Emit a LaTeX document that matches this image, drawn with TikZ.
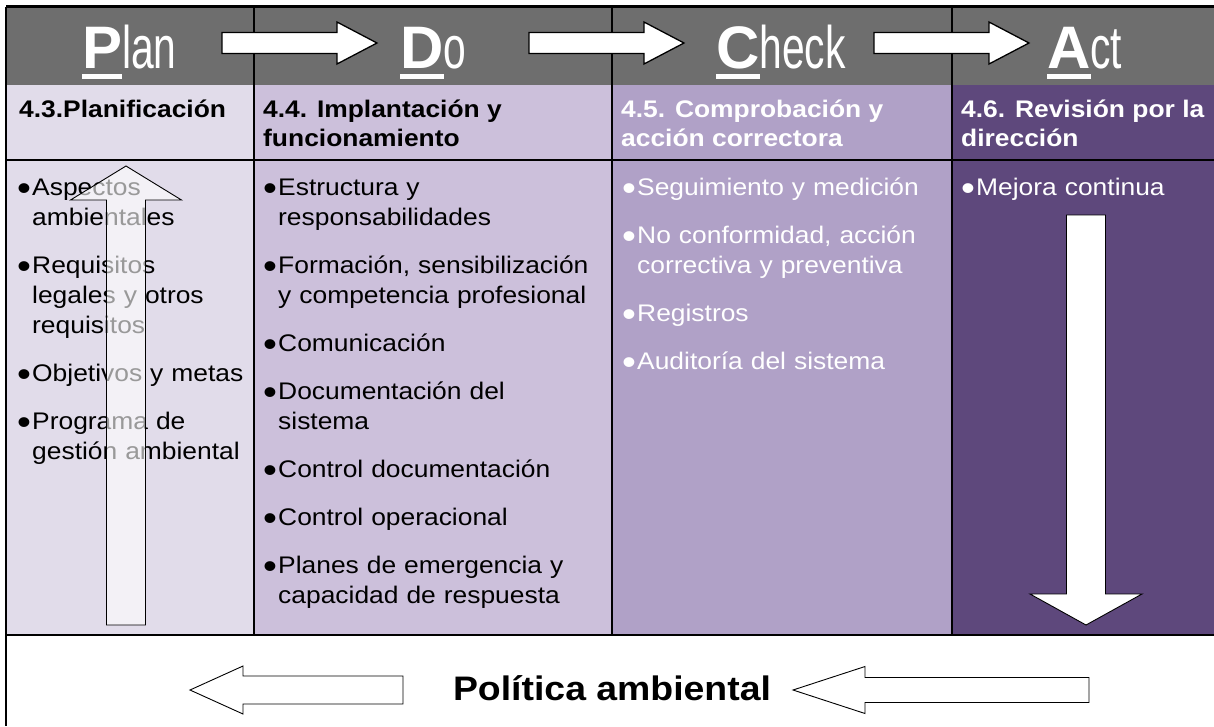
\documentclass[tikz,border=0pt]{standalone}
\usepackage{fontspec}
\setmainfont{Liberation Sans}[FakeStretch=1.1]
\newfontfamily\capfont{Liberation Sans}
\newfontfamily\lowfont{Liberation Sans}[FakeStretch=0.68]
\definecolor{headgray}{HTML}{6E6E6E}
\definecolor{planfill}{HTML}{E1DCEA}
\definecolor{dofill}{HTML}{CCC0DB}
\definecolor{checkfill}{HTML}{B0A1C7}
\definecolor{actfill}{HTML}{5E487C}
\newlength\capwd
\newcommand{\pdca}[2]{{\capfont\bfseries\settowidth{\capwd}{#1}\rlap{\rule[-11pt]{\capwd}{5pt}}#1}{\lowfont #2}}
\newcommand{\bigdot}{\raisebox{-5pt}{\fontsize{36}{30}\selectfont\textbullet}}
\newcommand{\bitem}[1]{\hangindent=15pt\hangafter=1\noindent\makebox[15pt][l]{\bigdot}#1\par}
\tikzset{
  pics/fatarrow/.style args={#1/#2/#3/#4}{code={
    \path[pic actions] (0,-#2) -- (#1-#4,-#2) -- (#1-#4,-#3) -- (#1,0) -- (#1-#4,#3) -- (#1-#4,#2) -- (0,#2) -- cycle;}},
  pdcatext/.style={text=white, inner sep=0pt, anchor=base west, font=\fontsize{60}{60}\selectfont},
  coltitle/.style={inner sep=0pt, anchor=base west, align=left, font=\fontsize{24}{29}\selectfont\bfseries},
  collist/.style={inner sep=0pt, anchor=base west, align=left, font=\fontsize{24}{30}\selectfont\setlength{\parskip}{18pt}},
  gridline/.style={black, line width=2.5pt},
  topbar/.style={draw=black, fill=white, line width=1.3pt},
  thinbar/.style={draw=black, fill=white, line width=0.9pt}
}
\begin{document}
\begin{tikzpicture}[x=1pt, y=-1pt]
\useasboundingbox (0,0) rectangle (1214,726);
\fill[white] (0,0) rectangle (1214,726);

% column backgrounds
\fill[headgray] (6,6.5) rectangle (1214,85);
\fill[planfill] (6,85) rectangle (254,635);
\fill[dofill] (254,85) rectangle (612,635);
\fill[checkfill] (612,85) rectangle (952,635);
\fill[actfill] (952,85) rectangle (1214,635);

% grid
\draw[gridline] (6,6.5) -- (1214,6.5);
\draw[gridline] (6,6.5) -- (6,726);
\draw[gridline] (6,160) -- (1214,160);
\draw[gridline] (6,635) -- (1214,635);
\foreach \xc in {254,612,952}
  \draw[black, line width=2pt] (\xc,6.5) -- (\xc,635);

% PDCA header
\node[pdcatext] (planhead) at (82,68) {\pdca{P}{lan}};
\node[pdcatext] (dohead) at (400,68) {\pdca{D}{o}};
\node[pdcatext] (checkhead) at (716,68) {\pdca{C}{heck}};
\node[pdcatext] (acthead) at (1047,68) {\pdca{A}{ct}};
\foreach \xa in {222,529,874}
  \pic[topbar] at (\xa,43) {fatarrow=155/10.5/21/40};

% column titles (base = last line)
\node[coltitle] (plantitle) at (19,117) {4.3.Planificación};
\node[coltitle] (dotitle) at (263,146) {4.4. Implantación y\\funcionamiento};
\node[coltitle, text=white] (checktitle) at (621,146) {4.5. Comprobación y\\acción correctora};
\node[coltitle, text=white] (acttitle) at (961,146) {4.6. Revisión por la\\dirección};

% column lists
\node[collist, text width=260pt] (planlist) at (17,195) {%
  \bitem{Aspectos\newline ambientales}
  \bitem{Requisitos\newline legales y otros\newline requisitos}
  \bitem{Objetivos y metas}
  \bitem{Programa de\newline gestión ambiental}};
\node[collist, text width=340pt] (dolist) at (263,195) {%
  \bitem{Estructura y\newline responsabilidades}
  \bitem{Formación, sensibilización\newline y competencia profesional}
  \bitem{Comunicación}
  \bitem{Documentación del\newline sistema}
  \bitem{Control documentación}
  \bitem{Control operacional}
  \bitem{Planes de emergencia y\newline capacidad de respuesta}};
\node[collist, text width=330pt, text=white] (checklist) at (622,195) {%
  \bitem{Seguimiento y medición}
  \bitem{No conformidad, acción\newline correctiva y preventiva}
  \bitem{Registros}
  \bitem{Auditoría del sistema}};
\node[collist, text width=250pt, text=white] (actlist) at (961,195) {%
  \bitem{Mejora continua}};

% vertical arrows
\pic[thinbar, fill opacity=0.6, rotate=90] at (126,625) {fatarrow=459/19.5/55.5/34};
\pic[thinbar, rotate=-90] at (1086,215) {fatarrow=410/19.5/56/31};

% policy
\node[inner sep=0pt, anchor=base, font=\fontsize{34}{34}\selectfont\bfseries] (policy) at (612,700) {Política ambiental};
\pic[thinbar, rotate=180] at (403,690) {fatarrow=213/14/24/53};
\pic[thinbar, rotate=180] at (1089,690) {fatarrow=296/12.5/23.5/72};
\end{tikzpicture}
\end{document}
